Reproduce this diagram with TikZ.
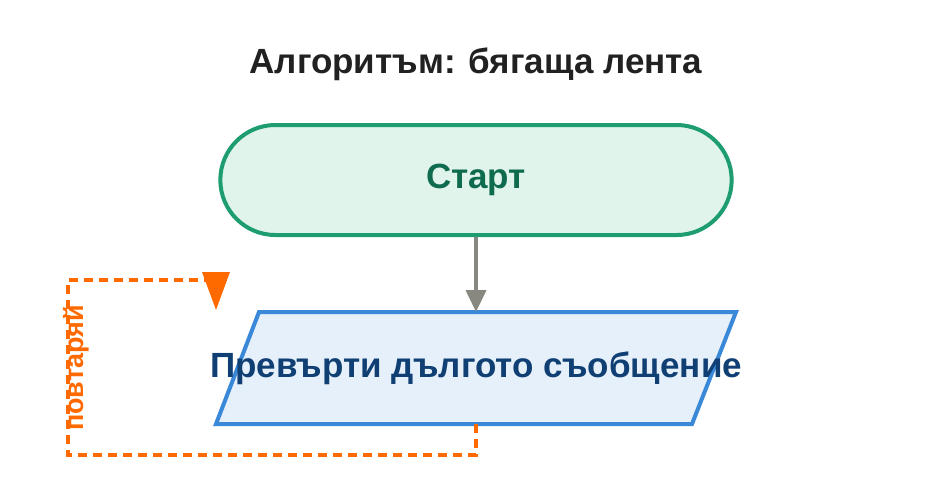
\documentclass[tikz,border=0pt]{standalone}
\usepackage{fontspec}
\setmainfont{Liberation Sans}
\usetikzlibrary{positioning,arrows.meta,shapes.misc}
\definecolor{startfill}{HTML}{E0F4EC}
\definecolor{startdraw}{HTML}{1E9E70}
\definecolor{starttext}{HTML}{0F6B4E}
\definecolor{iofill}{HTML}{E6F0FA}
\definecolor{iodraw}{HTML}{3A88D8}
\definecolor{iotext}{HTML}{0F3F73}
\definecolor{flowgray}{HTML}{888880}
\definecolor{loopor}{HTML}{FF6A00}

\begin{document}
\begin{tikzpicture}[x=1pt,y=-1pt,
  title/.style={font=\bfseries\fontsize{35}{40}\selectfont,text=black!87},
  startnode/.style={rounded rectangle,draw=startdraw,fill=startfill,line width=4pt,
    minimum width=518pt,minimum height=110pt,text=starttext,font=\bfseries\fontsize{35}{40}\selectfont},
  ionode/.style={draw=iodraw,fill=iofill,line width=4pt},
  flow/.style={flowgray,line width=4pt,-{Triangle[length=22pt,width=20pt]}},
  loop/.style={loopor,line width=4.5pt,dash pattern=on 9pt off 6pt}]
  \useasboundingbox (0,0) rectangle (952,488);

  \node[title] (ttl) at (476,64) {Алгоритъм: бягаща лента};

  \node[startnode] (start) at (476,180) {Старт};

  % parallelogram for the output step
  \coordinate (p1) at (259,312);
  \coordinate (p2) at (736,312);
  \coordinate (p3) at (692,424);
  \coordinate (p4) at (216,424);
  \draw[ionode] (p1) -- (p2) -- (p3) -- (p4) -- cycle;
  \node[text=iotext,font=\bfseries\fontsize{35}{40}\selectfont] (show) at (476,368) {Превърти дългото съобщение};
  \coordinate (showtop) at (476,312);
  \coordinate (showbot) at (476,424);

  \draw[flow] (start.south) -- (showtop);

  % repeat loop
  \coordinate (lp1) at (476,455);
  \coordinate (lp2) at (68,455);
  \coordinate (lp3) at (68,280);
  \coordinate (lp4) at (216,280);
  \coordinate (lpend) at (216,310);
  \draw[loop] (showbot) -- (lp1) -- (lp2) -- (lp3) -- (lp4);
  \fill[loopor] (202,272) -- (230,272) -- (lpend) -- cycle;
  \node[rotate=90,text=loopor,font=\bfseries\fontsize{27}{30}\selectfont] (rep) at (76,368) {повтаряй};
\end{tikzpicture}
\end{document}
